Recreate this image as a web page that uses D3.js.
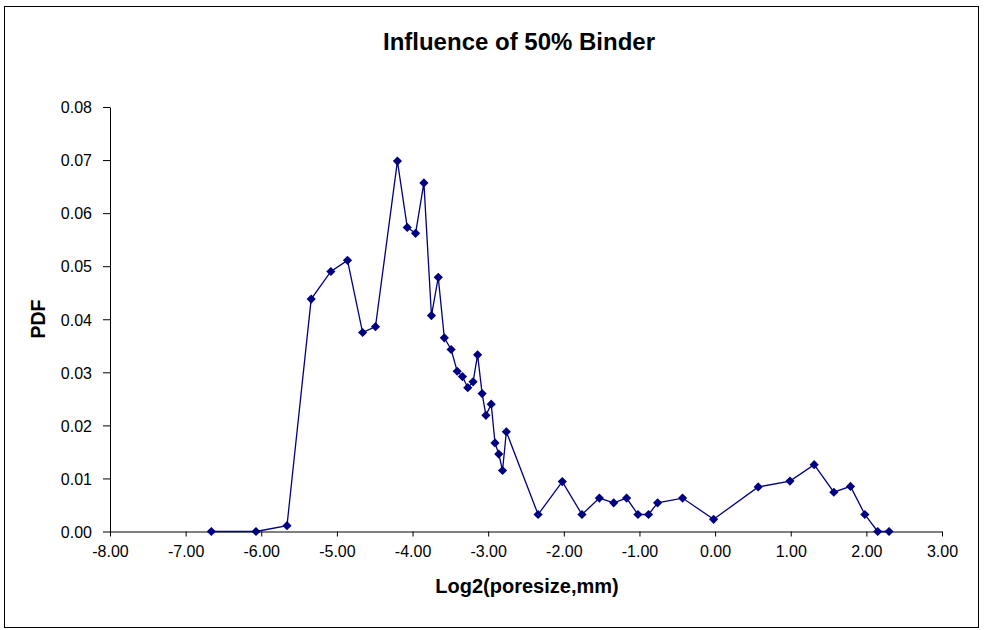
<!DOCTYPE html>
<html><head><meta charset="utf-8">
<script src="https://cdn.jsdelivr.net/npm/d3@7"></script>
<style>body{margin:0;background:#fff}svg{display:block;font-family:"Liberation Sans",Arial,sans-serif}</style>
</head><body><svg id="c" width="985" height="630"></svg>
<script>
const logSize = [-6.66,-6.07,-5.66,-5.34,-5.08,-4.86,-4.66,-4.49,-4.20,-4.07,-3.96,-3.85,-3.75,-3.66,-3.58,-3.49,-3.41,-3.34,-3.27,-3.20,-3.14,-3.08,-3.03,-2.96,-2.91,-2.86,-2.81,-2.76,-2.34,-2.02,-1.76,-1.53,-1.34,-1.17,-1.02,-0.88,-0.76,-0.43,-0.02,0.57,0.99,1.31,1.57,1.79,1.98,2.15,2.30];
const pdf = [0.0000,0.0000,0.0011,0.0438,0.0490,0.0511,0.0375,0.0386,0.0698,0.0573,0.0562,0.0657,0.0407,0.0479,0.0365,0.0343,0.0302,0.0292,0.0271,0.0282,0.0333,0.0260,0.0219,0.0240,0.0167,0.0146,0.0115,0.0188,0.0032,0.0094,0.0032,0.0063,0.0054,0.0063,0.0032,0.0032,0.0054,0.0063,0.0023,0.0084,0.0095,0.0126,0.0074,0.0085,0.0032,0.0000,0.0000];
const xTicks = [-8,-7,-6,-5,-4,-3,-2,-1,0,1,2,3];
const yTicks = [0,0.01,0.02,0.03,0.04,0.05,0.06,0.07,0.08];
const title = "Influence of 50% Binder", xLabel = "Log2(poresize,mm)", yLabel = "PDF";

const fmt = d => d.toFixed(2);
const svg = d3.select("#c");
svg.append("rect").attr("x",4.5).attr("y",6.5).attr("width",974).attr("height",621).attr("fill","#fff").attr("stroke","#000").attr("stroke-width",1);
const x = d3.scaleLinear().domain([-8,3]).range([110,942]);
const y = d3.scaleLinear().domain([0,0.08]).range([531.5,107]);

const gx = svg.append("g").attr("transform","translate(0,531.5)")
  .call(d3.axisBottom(x).tickValues(xTicks).tickFormat(fmt).tickSizeInner(5).tickSizeOuter(0).tickPadding(8));
const gy = svg.append("g").attr("transform","translate(110,0)")
  .call(d3.axisLeft(y).tickValues(yTicks).tickFormat(fmt).tickSizeInner(7).tickSizeOuter(0).tickPadding(11));
[gx,gy].forEach(g=>{g.selectAll("text").attr("font-size",16).attr("fill","#000").attr("font-family","Liberation Sans, Arial, sans-serif");
  g.selectAll("line,path").attr("stroke","#000");});
gy.selectAll("text").attr("dy","0.36em");
gx.selectAll("text").attr("dy","0.76em");

const pts = logSize.map((v,i)=>[v,pdf[i]]);
svg.append("path").datum(pts).attr("fill","none").attr("stroke","#000080").attr("stroke-width",1.3)
  .attr("d",d3.line().x(d=>x(d[0])).y(d=>y(d[1])));
const r = 4.6;
svg.append("g").selectAll("path").data(pts).join("path")
  .attr("transform",d=>`translate(${x(d[0])},${y(d[1])})`)
  .attr("d",`M0,${-r}L${r},0L0,${r}L${-r},0Z`)
  .attr("fill","#000080");

svg.append("text").attr("x",519).attr("y",50).attr("text-anchor","middle").attr("font-size",24).attr("font-weight","bold").text(title);
svg.append("text").attr("x",527).attr("y",593).attr("text-anchor","middle").attr("font-size",20).attr("font-weight","bold").text(xLabel);
svg.append("text").attr("transform","translate(45,319) rotate(-90)").attr("text-anchor","middle").attr("font-size",19.5).attr("font-weight","bold").text(yLabel);
</script></body></html>
